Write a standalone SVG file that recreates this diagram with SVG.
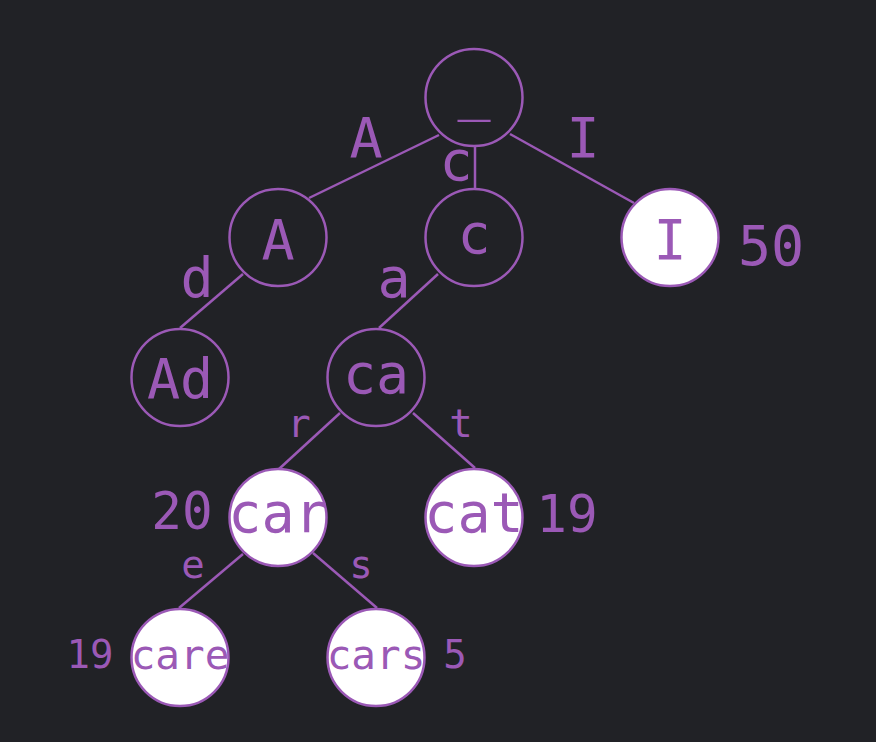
<svg xmlns="http://www.w3.org/2000/svg" width="876" height="742" viewBox="0 0 876 742">
<style>
  text { font-family: "DejaVu Sans Mono", "Liberation Mono", monospace; fill: #9b59b6; text-anchor: middle; }
  .node { stroke: #9b59b6; stroke-width: 2.5; fill: none; }
  .word { stroke: #9b59b6; stroke-width: 2.5; fill: #ffffff; }
  .edge { stroke: #9b59b6; stroke-width: 2.5; fill: none; }
  .big { font-size: 55px; }
  .mid { font-size: 51px; }
  .small { font-size: 39px; }
  .fit { font-size: 41px; }
</style>
<rect width="876" height="742" fill="#212226"/>
<g id="connectors">
  <line class="edge" x1="439" y1="135" x2="309" y2="198"/>
  <line class="edge" x1="475" y1="147" x2="475" y2="189"/>
  <line class="edge" x1="510" y1="134" x2="634" y2="203"/>
  <line class="edge" x1="243" y1="274" x2="180" y2="328"/>
  <line class="edge" x1="438" y1="274" x2="379" y2="328"/>
  <line class="edge" x1="340" y1="413" x2="279" y2="469"/>
  <line class="edge" x1="413" y1="413" x2="475" y2="468"/>
  <line class="edge" x1="243" y1="554" x2="179" y2="608"/>
  <line class="edge" x1="313" y1="553" x2="377" y2="608"/>
  <text class="big" x="366" y="157">A</text>
  <text class="big" x="456" y="180">c</text>
  <text class="big" x="583" y="157">I</text>
  <text class="big" x="197" y="297">d</text>
  <text class="big" x="394" y="297">a</text>
  <text class="small" x="299" y="437">r</text>
  <text class="small" x="461" y="437">t</text>
  <text class="small" x="193" y="578">e</text>
  <text class="small" x="361" y="578">s</text>
</g>
<g id="node-root">
  <circle class="node" cx="474" cy="97.5" r="48.5"/>
  <text class="big" x="474" y="109">_</text>
</g>
<g id="node-A">
  <circle class="node" cx="278" cy="237.5" r="48.5"/>
  <text class="big" x="278" y="259">A</text>
</g>
<g id="node-c">
  <circle class="node" cx="474" cy="237.5" r="48.5"/>
  <text class="big" x="474" y="253">c</text>
</g>
<g id="node-I">
  <circle class="word" cx="670" cy="237.5" r="48.5"/>
  <text class="big" x="670" y="259">I</text>
  <text class="big" x="771" y="265">50</text>
</g>
<g id="node-Ad">
  <circle class="node" cx="180" cy="377.5" r="48.5"/>
  <text class="big" x="180" y="398">Ad</text>
</g>
<g id="node-ca">
  <circle class="node" cx="376" cy="377.5" r="48.5"/>
  <text class="big" x="376" y="393">ca</text>
</g>
<g id="node-car">
  <circle class="word" cx="278" cy="517.5" r="48.5"/>
  <text class="big" x="278" y="532">car</text>
  <text class="mid" x="182" y="529">20</text>
</g>
<g id="node-cat">
  <circle class="word" cx="474" cy="517.5" r="48.5"/>
  <text class="big" x="474" y="532">cat</text>
  <text class="mid" x="567" y="532">19</text>
</g>
<g id="node-care">
  <circle class="word" cx="180" cy="657.5" r="48.5"/>
  <text class="fit" x="180" y="669">care</text>
  <text class="small" x="90" y="668">19</text>
</g>
<g id="node-cars">
  <circle class="word" cx="376" cy="657.5" r="48.5"/>
  <text class="fit" x="376" y="669">cars</text>
  <text class="small" x="455" y="668">5</text>
</g>
</svg>
